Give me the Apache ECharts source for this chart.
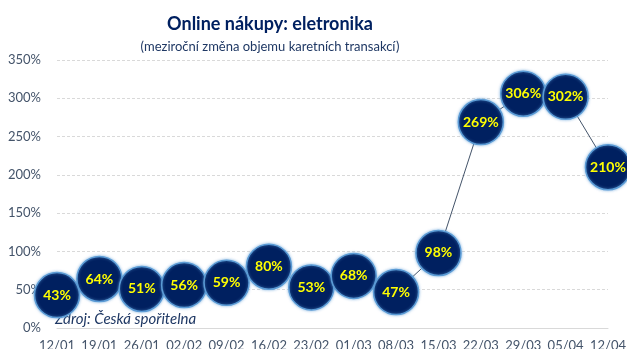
<!DOCTYPE html>
<html>
<head>
<meta charset="utf-8">
<script src="https://cdn.jsdelivr.net/npm/echarts@6/dist/echarts.min.js"></script>
<style>
html,body{margin:0;padding:0;background:#fff;}
#chart{width:627px;height:349px;}
</style>
</head>
<body>
<div id="chart"></div>
<script>
// Weekly year-on-year change in card transaction volume, online electronics
const weeks = ['12/01','19/01','26/01','02/02','09/02','16/02','23/02','01/03','08/03','15/03','22/03','29/03','05/04','12/04'];
const changePct = [43, 64, 51, 56, 59, 80, 53, 68, 47, 98, 269, 306, 302, 210];
const yTicks = [0, 50, 100, 150, 200, 250, 300, 350];

const navy = '#002060';
const font = 'Lato, "Open Sans", sans-serif';

const chart = echarts.init(document.getElementById('chart'));
chart.setOption({
  animation: false,
  backgroundColor: '#fff',
  title: [
    {
      text: 'Online nákupy: eletronika',
      left: 265, top: 10, textAlign: 'center',
      textStyle: {color: navy, fontFamily: font, fontWeight: 'bold', fontSize: 18}
    },
    {
      text: '(meziroční změna objemu karetních transakcí)',
      left: 265, top: 35, textAlign: 'center',
      textStyle: {color: '#1f3864', fontFamily: font, fontWeight: 'normal', fontSize: 13}
    }
  ],
  graphic: [{
    type: 'text', left: 55, top: 312, z: 1,
    style: {text: 'Zdroj: Česká spořitelna', fill: '#1f3864', font: 'italic 15px Lato, "Open Sans", sans-serif'}
  }],
  grid: {left: 57, right: 19, top: 60, bottom: 21, containLabel: false, outerBoundsMode: 'none'},
  xAxis: {
    type: 'category', data: weeks, boundaryGap: false,
    axisLine: {show: true, lineStyle: {color: '#d9d9d9'}},
    axisTick: {show: false},
    axisLabel: {color: '#44546a', fontFamily: font, fontSize: 13, margin: 11, interval: 0}
  },
  yAxis: {
    type: 'value', min: yTicks[0], max: yTicks[yTicks.length - 1], interval: 50,
    axisLine: {show: false}, axisTick: {show: false},
    axisLabel: {color: '#44546a', fontFamily: font, fontSize: 13, margin: 16, formatter: '{value}%'},
    splitLine: {lineStyle: {color: '#d9d9d9', type: [3, 2]}}
  },
  series: [{
    type: 'line', data: changePct, z: 3,
    lineStyle: {color: '#44546a', width: 1},
    symbol: 'circle', symbolSize: 45,
    itemStyle: {color: navy, borderColor: '#5b9bd5', borderWidth: 1.5, shadowBlur: 3, shadowColor: 'rgba(91,155,213,0.7)'},
    label: {
      show: true, position: 'inside', formatter: '{c}%',
      color: '#ffff00', fontFamily: font, fontWeight: 'bold', fontSize: 14
    }
  }]
});
</script>
</body>
</html>
